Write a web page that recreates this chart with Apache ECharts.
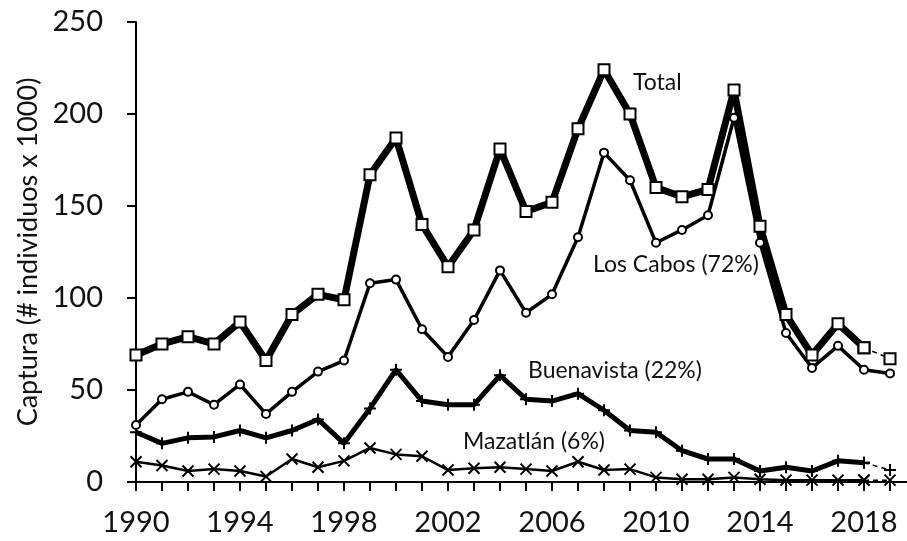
<!DOCTYPE html>
<html>
<head>
<meta charset="utf-8">
<script src="https://cdn.jsdelivr.net/npm/echarts@6/dist/echarts.min.js"></script>
<style>
  html, body { margin: 0; padding: 0; background: #fff; }
  #chart { width: 907px; height: 541px; }
</style>
</head>
<body>
<div id="chart"></div>
<script>
var years = [1990, 1991, 1992, 1993, 1994, 1995, 1996, 1997, 1998, 1999,
  2000, 2001, 2002, 2003, 2004, 2005, 2006, 2007, 2008, 2009,
  2010, 2011, 2012, 2013, 2014, 2015, 2016, 2017, 2018, 2019];
var total = [69, 75, 79, 75, 87, 66, 91, 102, 99, 167,
  187, 140, 117, 137, 181, 147, 152, 192, 224, 200,
  160, 155, 159, 213, 139, 91, 69, 86, 73, 67];
var losCabos = [31, 45, 49, 42, 53, 37, 49, 60, 66, 108,
  110, 83, 68, 88, 115, 92, 102, 133, 179, 164,
  130, 137, 145, 198, 130, 81, 62, 74, 61, 59];
var buenavista = [27, 21, 24, 24.5, 28, 24, 28, 34, 21, 40,
  61, 44, 42, 42, 58, 45, 44, 48, 39, 28,
  27, 17, 12.5, 12.5, 6, 8, 6, 11.5, 10.5, 6.5];
var mazatlan = [11, 9, 6, 7, 6, 3, 12.5, 8, 11.5, 18.5,
  15, 14, 6.5, 7.5, 8, 7, 6, 11, 6.5, 7,
  2.5, 1.5, 1.5, 2.5, 1.5, 1, 1, 1, 1, 1];
var yTicks = [0, 50, 100, 150, 200, 250];

var FONT = "Lato";
var plusPath = "path://M0,5L10,5M5,0L5,10";
var crossPath = "path://M0,0L10,10M0,10L10,0";

// solid part up to 2018, dashed last step to 2019
function solid(vals) {
  return years.slice(0, 29).map(function (y, i) { return [y, vals[i]]; });
}
function dashed(vals) {
  return years.slice(28).map(function (y, i) { return [y, vals[28 + i]]; });
}

function lineSeries(name, data, width, symbol, size, fill, border, dash) {
  return {
    name: name,
    type: "line",
    data: data,
    symbol: symbol,
    symbolSize: size,
    showAllSymbol: true,
    lineStyle: { color: "#000", width: width, type: dash ? [5, 4] : "solid" },
    itemStyle: { color: fill, borderColor: "#000", borderWidth: border },
    z: dash ? 1 : 2,
  };
}

var myChart = echarts.init(document.getElementById("chart"));
var option = {
  animation: false,
  backgroundColor: "#fff",
  grid: { left: 136, right: -9, top: 22, bottom: 59, outerBoundsMode: "none", containLabel: false },
  xAxis: {
    type: "value",
    min: 1990,
    max: 2020,
    interval: 1,
    axisLine: { onZero: false, lineStyle: { color: "#000", width: 2 } },
    axisTick: { show: true, length: 9, lineStyle: { color: "#000", width: 2 } },
    splitLine: { show: false },
    axisLabel: {
      margin: 26,
      color: "#111",
      fontFamily: FONT,
      fontSize: 29,
      formatter: function (v) {
        return (v - 1990) % 4 === 0 && v < 2020 ? String(v) : "";
      },
    },
  },
  yAxis: {
    type: "value",
    min: yTicks[0],
    max: yTicks[yTicks.length - 1],
    interval: 50,
    name: "Captura (# individuos x 1000)",
    nameLocation: "middle",
    nameGap: 90,
    nameTextStyle: { color: "#111", fontFamily: FONT, fontSize: 27 },
    axisLine: { show: true, lineStyle: { color: "#000", width: 2 } },
    axisTick: { show: true, length: 9, lineStyle: { color: "#000", width: 2 } },
    splitLine: { show: false },
    axisLabel: { margin: 33, color: "#111", fontFamily: FONT, fontSize: 29 },
  },
  graphic: [
    { type: "text", left: 633, top: 71, style: { text: "Total", font: "23px Lato", fill: "#111" } },
    { type: "text", left: 593, top: 253, style: { text: "Los Cabos (72%)", font: "23px Lato", fill: "#111" } },
    { type: "text", left: 528, top: 359, style: { text: "Buenavista (22%)", font: "23px Lato", fill: "#111" } },
    { type: "text", left: 463, top: 430, style: { text: "Mazatlán (6%)", font: "23px Lato", fill: "#111" } },
  ],
  series: [
    lineSeries("Mazatlán", solid(mazatlan), 2.5, crossPath, 11, "none", 2, false),
    lineSeries("Mazatlán ", dashed(mazatlan), 1.5, crossPath, 11, "none", 2, true),
    lineSeries("Buenavista", solid(buenavista), 5, plusPath, 12, "none", 2, false),
    lineSeries("Buenavista ", dashed(buenavista), 1.5, plusPath, 12, "none", 2, true),
    lineSeries("Los Cabos", years.map(function (y, i) { return [y, losCabos[i]]; }), 3.5, "circle", 8, "#fff", 2, false),
    lineSeries("Total", solid(total), 7, "rect", 11, "#fff", 2, false),
    lineSeries("Total ", dashed(total), 1.5, "rect", 11, "#fff", 2, true),
  ],
};
myChart.setOption(option);
</script>
</body>
</html>
